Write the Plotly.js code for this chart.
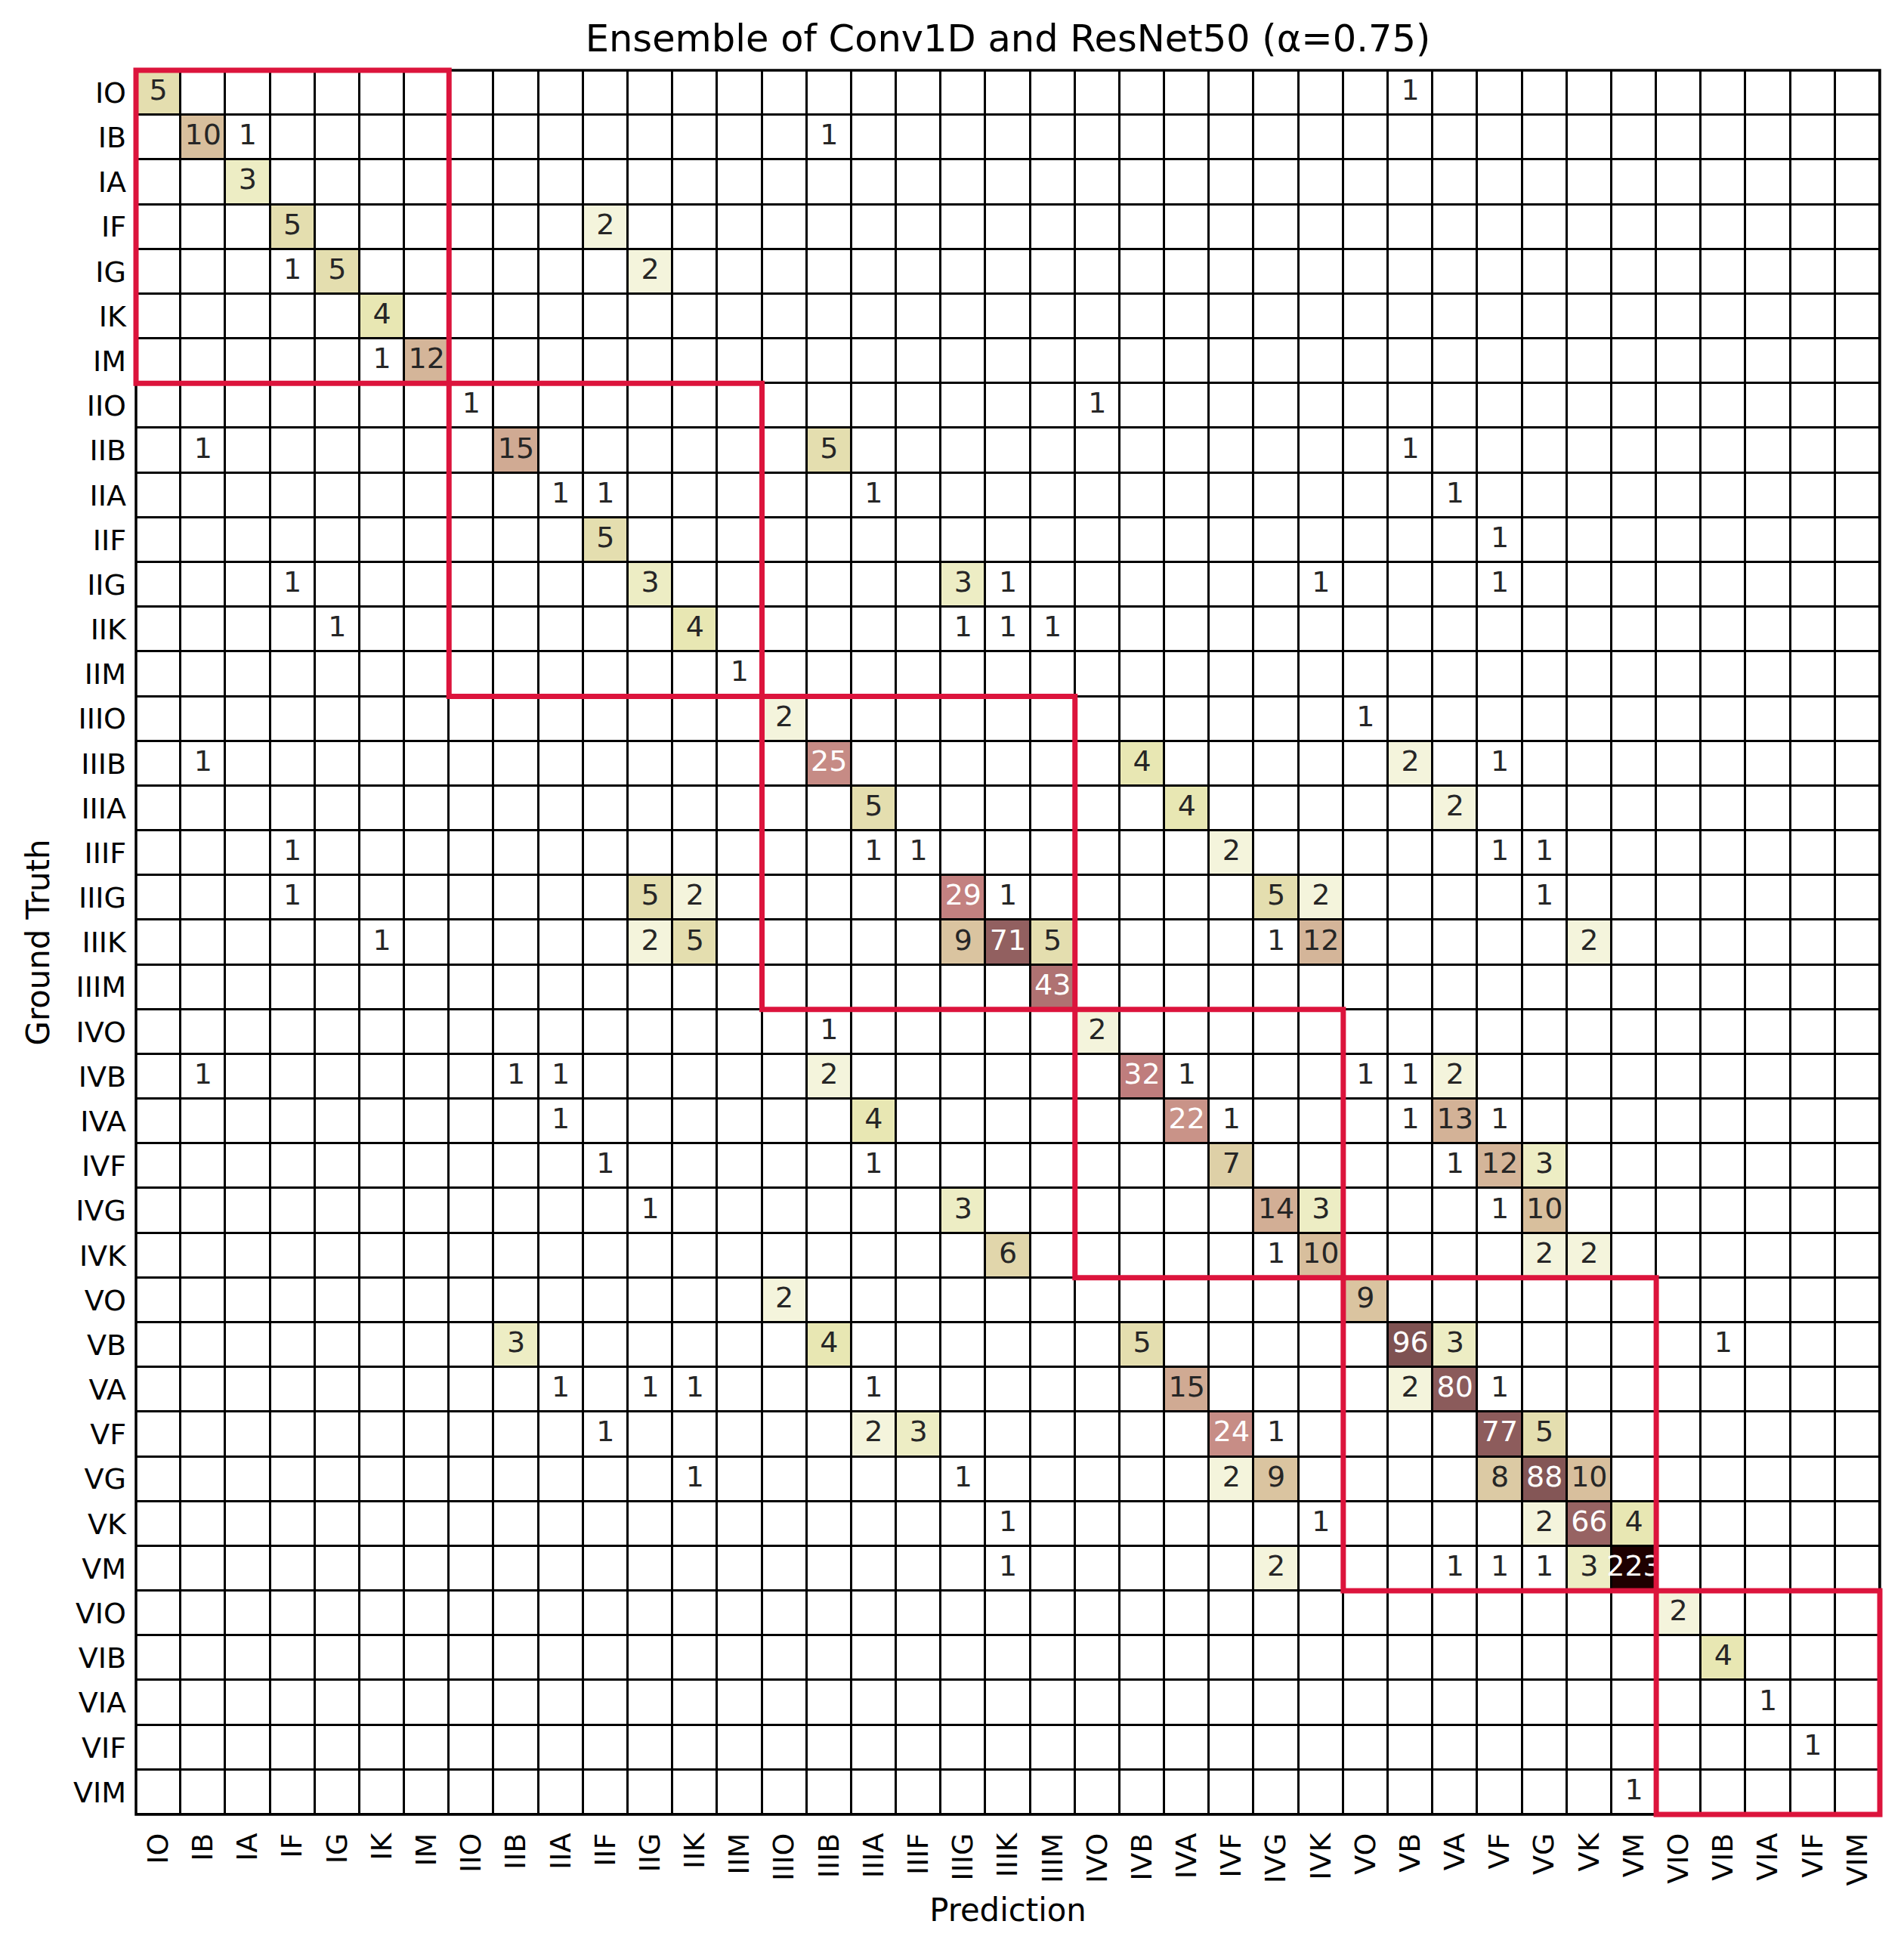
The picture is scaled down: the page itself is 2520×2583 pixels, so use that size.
<!DOCTYPE html>
<html>
<head>
<meta charset="utf-8">
<script src="https://cdn.plot.ly/plotly-3.0.1.min.js"></script>
<style>html,body{margin:0;padding:0;background:#fff;}</style>
</head>
<body>
<div id="chart" style="width:2520px;height:2583px;"></div>
<script>
// Class labels (ground truth rows and prediction columns share the same list)
const categories = ["IO","IB","IA","IF","IG","IK","IM",
  "IIO","IIB","IIA","IIF","IIG","IIK","IIM",
  "IIIO","IIIB","IIIA","IIIF","IIIG","IIIK","IIIM",
  "IVO","IVB","IVA","IVF","IVG","IVK",
  "VO","VB","VA","VF","VG","VK","VM",
  "VIO","VIB","VIA","VIF","VIM"];

// Confusion matrix counts: rows = ground truth, columns = prediction
// column groups:  I(7) | II(7) | III(7) | IV(6) | V(7) | VI(5)
const counts = [
/*IO  */ [5,0,0,0,0,0,0, 0,0,0,0,0,0,0, 0,0,0,0,0,0,0, 0,0,0,0,0,0, 0,1,0,0,0,0,0, 0,0,0,0,0],
/*IB  */ [0,10,1,0,0,0,0, 0,0,0,0,0,0,0, 0,1,0,0,0,0,0, 0,0,0,0,0,0, 0,0,0,0,0,0,0, 0,0,0,0,0],
/*IA  */ [0,0,3,0,0,0,0, 0,0,0,0,0,0,0, 0,0,0,0,0,0,0, 0,0,0,0,0,0, 0,0,0,0,0,0,0, 0,0,0,0,0],
/*IF  */ [0,0,0,5,0,0,0, 0,0,0,2,0,0,0, 0,0,0,0,0,0,0, 0,0,0,0,0,0, 0,0,0,0,0,0,0, 0,0,0,0,0],
/*IG  */ [0,0,0,1,5,0,0, 0,0,0,0,2,0,0, 0,0,0,0,0,0,0, 0,0,0,0,0,0, 0,0,0,0,0,0,0, 0,0,0,0,0],
/*IK  */ [0,0,0,0,0,4,0, 0,0,0,0,0,0,0, 0,0,0,0,0,0,0, 0,0,0,0,0,0, 0,0,0,0,0,0,0, 0,0,0,0,0],
/*IM  */ [0,0,0,0,0,1,12, 0,0,0,0,0,0,0, 0,0,0,0,0,0,0, 0,0,0,0,0,0, 0,0,0,0,0,0,0, 0,0,0,0,0],
/*IIO */ [0,0,0,0,0,0,0, 1,0,0,0,0,0,0, 0,0,0,0,0,0,0, 1,0,0,0,0,0, 0,0,0,0,0,0,0, 0,0,0,0,0],
/*IIB */ [0,1,0,0,0,0,0, 0,15,0,0,0,0,0, 0,5,0,0,0,0,0, 0,0,0,0,0,0, 0,1,0,0,0,0,0, 0,0,0,0,0],
/*IIA */ [0,0,0,0,0,0,0, 0,0,1,1,0,0,0, 0,0,1,0,0,0,0, 0,0,0,0,0,0, 0,0,1,0,0,0,0, 0,0,0,0,0],
/*IIF */ [0,0,0,0,0,0,0, 0,0,0,5,0,0,0, 0,0,0,0,0,0,0, 0,0,0,0,0,0, 0,0,0,1,0,0,0, 0,0,0,0,0],
/*IIG */ [0,0,0,1,0,0,0, 0,0,0,0,3,0,0, 0,0,0,0,3,1,0, 0,0,0,0,0,1, 0,0,0,1,0,0,0, 0,0,0,0,0],
/*IIK */ [0,0,0,0,1,0,0, 0,0,0,0,0,4,0, 0,0,0,0,1,1,1, 0,0,0,0,0,0, 0,0,0,0,0,0,0, 0,0,0,0,0],
/*IIM */ [0,0,0,0,0,0,0, 0,0,0,0,0,0,1, 0,0,0,0,0,0,0, 0,0,0,0,0,0, 0,0,0,0,0,0,0, 0,0,0,0,0],
/*IIIO*/ [0,0,0,0,0,0,0, 0,0,0,0,0,0,0, 2,0,0,0,0,0,0, 0,0,0,0,0,0, 1,0,0,0,0,0,0, 0,0,0,0,0],
/*IIIB*/ [0,1,0,0,0,0,0, 0,0,0,0,0,0,0, 0,25,0,0,0,0,0, 0,4,0,0,0,0, 0,2,0,1,0,0,0, 0,0,0,0,0],
/*IIIA*/ [0,0,0,0,0,0,0, 0,0,0,0,0,0,0, 0,0,5,0,0,0,0, 0,0,4,0,0,0, 0,0,2,0,0,0,0, 0,0,0,0,0],
/*IIIF*/ [0,0,0,1,0,0,0, 0,0,0,0,0,0,0, 0,0,1,1,0,0,0, 0,0,0,2,0,0, 0,0,0,1,1,0,0, 0,0,0,0,0],
/*IIIG*/ [0,0,0,1,0,0,0, 0,0,0,0,5,2,0, 0,0,0,0,29,1,0, 0,0,0,0,5,2, 0,0,0,0,1,0,0, 0,0,0,0,0],
/*IIIK*/ [0,0,0,0,0,1,0, 0,0,0,0,2,5,0, 0,0,0,0,9,71,5, 0,0,0,0,1,12, 0,0,0,0,0,2,0, 0,0,0,0,0],
/*IIIM*/ [0,0,0,0,0,0,0, 0,0,0,0,0,0,0, 0,0,0,0,0,0,43, 0,0,0,0,0,0, 0,0,0,0,0,0,0, 0,0,0,0,0],
/*IVO */ [0,0,0,0,0,0,0, 0,0,0,0,0,0,0, 0,1,0,0,0,0,0, 2,0,0,0,0,0, 0,0,0,0,0,0,0, 0,0,0,0,0],
/*IVB */ [0,1,0,0,0,0,0, 0,1,1,0,0,0,0, 0,2,0,0,0,0,0, 0,32,1,0,0,0, 1,1,2,0,0,0,0, 0,0,0,0,0],
/*IVA */ [0,0,0,0,0,0,0, 0,0,1,0,0,0,0, 0,0,4,0,0,0,0, 0,0,22,1,0,0, 0,1,13,1,0,0,0, 0,0,0,0,0],
/*IVF */ [0,0,0,0,0,0,0, 0,0,0,1,0,0,0, 0,0,1,0,0,0,0, 0,0,0,7,0,0, 0,0,1,12,3,0,0, 0,0,0,0,0],
/*IVG */ [0,0,0,0,0,0,0, 0,0,0,0,1,0,0, 0,0,0,0,3,0,0, 0,0,0,0,14,3, 0,0,0,1,10,0,0, 0,0,0,0,0],
/*IVK */ [0,0,0,0,0,0,0, 0,0,0,0,0,0,0, 0,0,0,0,0,6,0, 0,0,0,0,1,10, 0,0,0,0,2,2,0, 0,0,0,0,0],
/*VO  */ [0,0,0,0,0,0,0, 0,0,0,0,0,0,0, 2,0,0,0,0,0,0, 0,0,0,0,0,0, 9,0,0,0,0,0,0, 0,0,0,0,0],
/*VB  */ [0,0,0,0,0,0,0, 0,3,0,0,0,0,0, 0,4,0,0,0,0,0, 0,5,0,0,0,0, 0,96,3,0,0,0,0, 0,1,0,0,0],
/*VA  */ [0,0,0,0,0,0,0, 0,0,1,0,1,1,0, 0,0,1,0,0,0,0, 0,0,15,0,0,0, 0,2,80,1,0,0,0, 0,0,0,0,0],
/*VF  */ [0,0,0,0,0,0,0, 0,0,0,1,0,0,0, 0,0,2,3,0,0,0, 0,0,0,24,1,0, 0,0,0,77,5,0,0, 0,0,0,0,0],
/*VG  */ [0,0,0,0,0,0,0, 0,0,0,0,0,1,0, 0,0,0,0,1,0,0, 0,0,0,2,9,0, 0,0,0,8,88,10,0, 0,0,0,0,0],
/*VK  */ [0,0,0,0,0,0,0, 0,0,0,0,0,0,0, 0,0,0,0,0,1,0, 0,0,0,0,0,1, 0,0,0,0,2,66,4, 0,0,0,0,0],
/*VM  */ [0,0,0,0,0,0,0, 0,0,0,0,0,0,0, 0,0,0,0,0,1,0, 0,0,0,0,2,0, 0,0,1,1,1,3,223, 0,0,0,0,0],
/*VIO */ [0,0,0,0,0,0,0, 0,0,0,0,0,0,0, 0,0,0,0,0,0,0, 0,0,0,0,0,0, 0,0,0,0,0,0,0, 2,0,0,0,0],
/*VIB */ [0,0,0,0,0,0,0, 0,0,0,0,0,0,0, 0,0,0,0,0,0,0, 0,0,0,0,0,0, 0,0,0,0,0,0,0, 0,4,0,0,0],
/*VIA */ [0,0,0,0,0,0,0, 0,0,0,0,0,0,0, 0,0,0,0,0,0,0, 0,0,0,0,0,0, 0,0,0,0,0,0,0, 0,0,1,0,0],
/*VIF */ [0,0,0,0,0,0,0, 0,0,0,0,0,0,0, 0,0,0,0,0,0,0, 0,0,0,0,0,0, 0,0,0,0,0,0,0, 0,0,0,1,0],
/*VIM */ [0,0,0,0,0,0,0, 0,0,0,0,0,0,0, 0,0,0,0,0,0,0, 0,0,0,0,0,0, 0,0,0,0,0,0,1, 0,0,0,0,0]
];

const chartTitle = "Ensemble of Conv1D and ResNet50 (α=0.75)";
const xLabel = "Prediction";
const yLabel = "Ground Truth";

// ---- styling helpers ----
const FONT = "DejaVu Sans, Liberation Sans, sans-serif";
const n = categories.length;
const idx = categories.map((_, i) => i);
counts.forEach((r, i) => { if (r.length !== n) console.error("row " + i + " has length " + r.length); });

// matplotlib "pink" colormap (sqrt((2*gray + hot)/3)), reversed, on a log scale
function pinkRGB(t) {
  const rh = Math.min(1, t / 0.375);
  const gh = Math.min(1, Math.max(0, (t - 0.375) / 0.375));
  const bh = Math.min(1, Math.max(0, (t - 0.75) / 0.25));
  let r = Math.sqrt((2 * t + rh) / 3);
  const g = Math.sqrt((2 * t + gh) / 3);
  const b = Math.sqrt((2 * t + bh) / 3);
  r = Math.max(r, 0.1178);
  return [r, g, b];
}
function toRGB(c) { return "rgb(" + c.map(v => Math.round(v * 255)).join(",") + ")"; }
const colorscale = [];
for (let i = 0; i <= 64; i++) {
  const s = i / 64;
  colorscale.push([s, toRGB(pinkRGB(1 - s))]);
}
const maxCount = Math.max(...counts.flat());
const zmax = Math.log(maxCount);
const zColor = counts.map(r => r.map(v => v > 0 ? Math.log(v) : 0));

function lin(c) { return c <= 0.03928 ? c / 12.92 : Math.pow((c + 0.055) / 1.055, 2.4); }
function lum(c) { return 0.2126 * lin(c[0]) + 0.7152 * lin(c[1]) + 0.0722 * lin(c[2]); }

const dark = {x: [], y: [], t: []}, light = {x: [], y: [], t: []};
counts.forEach((row, i) => row.forEach((v, j) => {
  if (v <= 0) return;
  const c = pinkRGB(1 - Math.log(v) / zmax);
  const tgt = lum(c) > 0.408 ? dark : light;
  tgt.x.push(j); tgt.y.push(i); tgt.t.push(String(v));
}));

const heat = {
  type: "heatmap", x: idx, y: idx, z: zColor,
  zmin: 0, zmax: zmax, colorscale: colorscale, showscale: false,
  xgap: 3, ygap: 3, hoverinfo: "skip"
};
function textTrace(d, color) {
  return {type: "scatter", mode: "text", x: d.x, y: d.y, text: d.t,
    textposition: "middle center", cliponaxis: false, hoverinfo: "skip",
    textfont: {family: FONT, size: 38, color: color}, showlegend: false};
}

// red boxes around the diagonal blocks of each Roman-numeral group
const groupOf = lab => lab.slice(0, -1);
const groups = [];
categories.forEach((lab, i) => {
  const g = groupOf(lab);
  if (groups.length && groups[groups.length - 1].g === g) groups[groups.length - 1].end = i;
  else groups.push({g: g, start: i, end: i});
});
const shapes = [{
  type: "rect", xref: "paper", yref: "paper", x0: 0, x1: 1, y0: 0, y1: 1,
  line: {color: "#000", width: 3.5}, fillcolor: "rgba(0,0,0,0)", layer: "above"
}];
groups.forEach(gr => {
  shapes.push({
    type: "rect", xref: "paper", yref: "paper",
    x0: gr.start / n, x1: (gr.end + 1) / n,
    y0: 1 - (gr.end + 1) / n, y1: 1 - gr.start / n,
    line: {color: "#dc143c", width: 7}, fillcolor: "rgba(0,0,0,0)", layer: "above"
  });
});

const W = 2520, H = 2583;
const layout = {
  width: W, height: H,
  margin: {l: 180, r: 32, t: 93, b: 182, pad: 0},
  paper_bgcolor: "#fff", plot_bgcolor: "#000",
  font: {family: FONT, color: "#000"},
  showlegend: false,
  title: {text: chartTitle, font: {family: FONT, size: 49.5, color: "#000"},
    x: 0.5, xref: "paper", xanchor: "center", y: 1 - 51 / H, yref: "container", yanchor: "middle"},
  xaxis: {
    range: [-0.5, n - 0.5], tickmode: "array", tickvals: idx, ticktext: categories,
    tickangle: -90, ticks: "", ticklabelstandoff: 16,
    tickfont: {family: FONT, size: 38, color: "#000"},
    showgrid: false, zeroline: false, showline: false, fixedrange: true,
    automargin: true,
    title: {text: xLabel, font: {family: FONT, size: 41.8, color: "#000"}, standoff: 18}
  },
  yaxis: {
    range: [n - 0.5, -0.5], tickmode: "array", tickvals: idx, ticktext: categories,
    ticks: "", ticklabelstandoff: 12,
    tickfont: {family: FONT, size: 38, color: "#000"},
    showgrid: false, zeroline: false, showline: false, fixedrange: true,
    automargin: true,
    title: {text: yLabel, font: {family: FONT, size: 41.8, color: "#000"}, standoff: 18}
  },
  shapes: shapes
};

Plotly.newPlot("chart", [heat, textTrace(dark, "#262626"), textTrace(light, "#ffffff")], layout,
  {displayModeBar: false, staticPlot: true});
</script>
</body>
</html>
